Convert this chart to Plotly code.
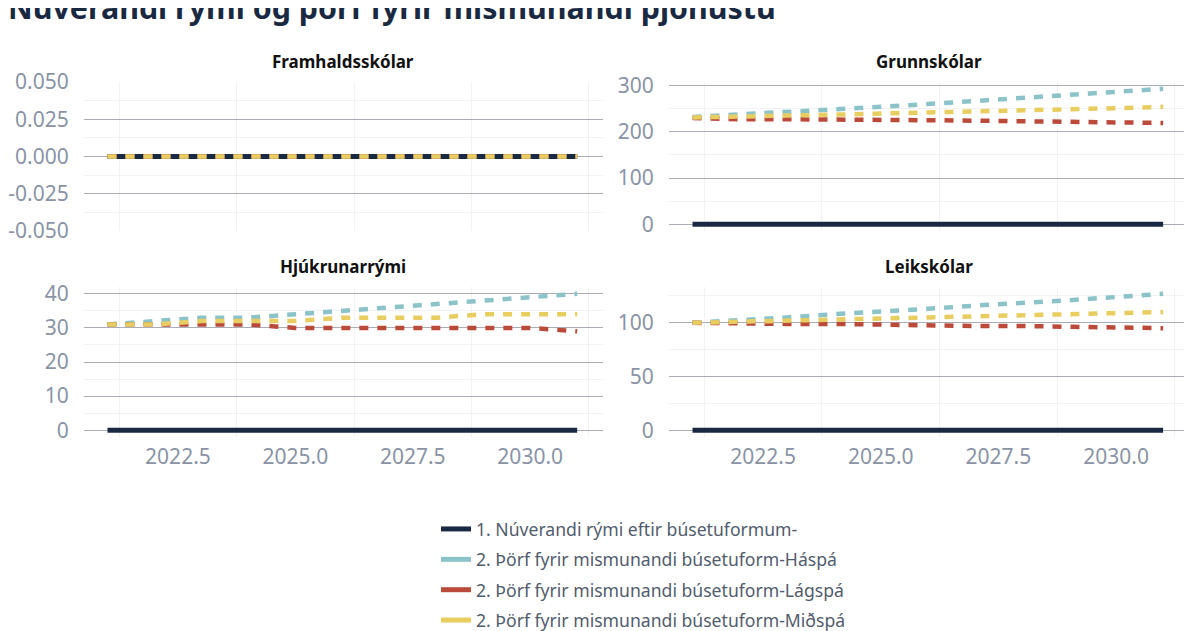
import plotly.graph_objects as go

# ---------------- data ----------------
years = [2021, 2022, 2023, 2024, 2025, 2026, 2027, 2028, 2029, 2030, 2031]

series_names = [
    "1. Núverandi rými eftir búsetuformum-",
    "2. Þörf fyrir mismunandi búsetuform-Háspá",
    "2. Þörf fyrir mismunandi búsetuform-Lágspá",
    "2. Þörf fyrir mismunandi búsetuform-Miðspá",
]

panel_titles = ["Framhaldsskólar", "Grunnskólar", "Hjúkrunarrými", "Leikskólar"]

framhald_nuverandi = [0, 0, 0, 0, 0, 0, 0, 0, 0, 0, 0]
framhald_haspa = [0, 0, 0, 0, 0, 0, 0, 0, 0, 0, 0]
framhald_lagspa = [0, 0, 0, 0, 0, 0, 0, 0, 0, 0, 0]
framhald_midspa = [0, 0, 0, 0, 0, 0, 0, 0, 0, 0, 0]

grunn_nuverandi = [0, 0, 0, 0, 0, 0, 0, 0, 0, 0, 0]
grunn_haspa = [232, 237, 243, 248, 254, 260, 267, 273, 280, 286, 293]
grunn_lagspa = [230, 227, 227, 227, 226, 225, 224, 223, 222, 221, 219]
grunn_midspa = [231, 232, 235, 237, 239, 242, 244, 247, 249, 251, 254]

hjukr_nuverandi = [0, 0, 0, 0, 0, 0, 0, 0, 0, 0, 0]
hjukr_haspa = [31, 32, 33, 33, 34, 35, 36, 37, 38, 39, 40]
hjukr_lagspa = [31, 31, 31, 31, 30, 30, 30, 30, 30, 30, 29]
hjukr_midspa = [31, 31, 32, 32, 32, 33, 33, 33, 34, 34, 34]

leik_nuverandi = [0, 0, 0, 0, 0, 0, 0, 0, 0, 0, 0]
leik_haspa = [100, 102, 105, 108, 110, 113, 116, 118, 121, 124, 127]
leik_lagspa = [100, 99, 99, 99, 98, 98, 97, 97, 96, 96, 95]
leik_midspa = [100, 101, 102, 103, 104, 105, 106, 107, 108, 109, 110]

panels = [
    [framhald_nuverandi, framhald_haspa, framhald_lagspa, framhald_midspa],
    [grunn_nuverandi, grunn_haspa, grunn_lagspa, grunn_midspa],
    [hjukr_nuverandi, hjukr_haspa, hjukr_lagspa, hjukr_midspa],
    [leik_nuverandi, leik_haspa, leik_lagspa, leik_midspa],
]

y_dticks = [0.025, 100, 10, 50]

framhald_tickvals = [-0.05, -0.025, 0, 0.025, 0.05]
framhald_ticktext = ["-0.050", "-0.025", "0.000", "0.025", "0.050"]

# ---------------- style ----------------
colors = ["#1a2942", "#8cc3c9", "#bb4a3b", "#e8cd61"]
widths = [5, 4.5, 4.5, 4.5]
dashes = ["solid", "9px,9px", "9px,9px", "9px,9px"]

W, H = 1184, 650
FONT = "Noto Sans"
TICK_COLOR = "#8a93a6"
GRID = "#a8adb7"
MINOR_GRID = "#f1f2f4"

def px_x(p):
    return p / W

def px_y(p):
    return 1 - p / H

x_domains = [(px_x(76), px_x(595)), (px_x(661), px_x(1181))]
y_domains = [(px_y(223), px_y(74)), (px_y(429), px_y(279))]

fig = go.Figure()

for i, data in enumerate(panels):
    ax = "" if i == 0 else str(i + 1)
    for j, ys in enumerate(data):
        fig.add_trace(go.Scatter(
            x=years, y=ys, mode="lines",
            name=series_names[j],
            line=dict(color=colors[j], width=widths[j], dash=dashes[j]),
            xaxis="x" + ax, yaxis="y" + ax,
            showlegend=False,
        ))

# legend-only entries (solid swatches as in the reference)
for j in range(4):
    fig.add_trace(go.Scatter(
        x=[None], y=[None], mode="lines", name=series_names[j],
        line=dict(color=colors[j], width=5),
        legendgroup=str(j), showlegend=True,
    ))

for i, data in enumerate(panels):
    row, col = divmod(i, 2)
    ax = "" if i == 0 else str(i + 1)
    ymax = max(max(s) for s in data)
    dt = y_dticks[i]
    yaxis = dict(
        domain=y_domains[row], anchor="x" + ax, automargin=False,
        showgrid=True, gridcolor=GRID, gridwidth=1,
        zeroline=False, showline=False,
        ticks="outside", ticklen=10, tickcolor="rgba(0,0,0,0)",
        tickfont=dict(family=FONT, size=21, color=TICK_COLOR),
        minor=dict(dtick=dt / 2, tick0=0, showgrid=True, gridcolor=MINOR_GRID, gridwidth=1),
    )
    if ymax == 0:
        yaxis.update(range=[-0.05, 0.05], tickmode="array",
                     tickvals=framhald_tickvals, ticktext=framhald_ticktext)
    else:
        yaxis.update(range=[-0.05 * ymax, 1.05 * ymax], dtick=dt, tick0=0)
    fig.layout["yaxis" + ax] = yaxis
    fig.layout["xaxis" + ax] = dict(
        domain=x_domains[col], anchor="y" + ax, automargin=False,
        range=[2020.5, 2031.55], dtick=2.5, tick0=2020, tickformat=".1f",
        showgrid=False, zeroline=False, showline=False,
        showticklabels=(row == 1),
        ticks="outside", ticklen=1, tickcolor="rgba(0,0,0,0)",
        tickfont=dict(family=FONT, size=21, color=TICK_COLOR),
        minor=dict(tick0=2021.25, dtick=2.5, showgrid=True, gridcolor=MINOR_GRID, gridwidth=1),
    )
    xd = x_domains[col]
    fig.add_annotation(
        text="<b>" + panel_titles[i] + "</b>",
        x=(xd[0] + xd[1]) / 2, xref="paper",
        y=px_y(54 if row == 0 else 258), yref="paper",
        xanchor="center", yanchor="middle", showarrow=False,
        font=dict(family=FONT, size=17, color="#111111"),
    )

fig.update_layout(
    width=W, height=H,
    margin=dict(l=0, r=0, t=0, b=0, autoexpand=False),
    paper_bgcolor="white", plot_bgcolor="white",
    title=dict(
        text="<b>Núverandi rými og þörf fyrir mismunandi þjónustu</b>",
        x=0, xanchor="left", xref="container",
        y=1, yanchor="middle", yref="container", automargin=False,
        font=dict(family=FONT, size=30.4, color="#1a2942"),
    ),
    legend=dict(
        x=px_x(428), xanchor="left", y=px_y(503), yanchor="top",
        orientation="v", traceorder="grouped", tracegroupgap=4.5,
        font=dict(family=FONT, size=17.6, color="#525c6e"),
        bgcolor="rgba(0,0,0,0)",
    ),
    showlegend=True,
)

fig.write_html("out.html")
